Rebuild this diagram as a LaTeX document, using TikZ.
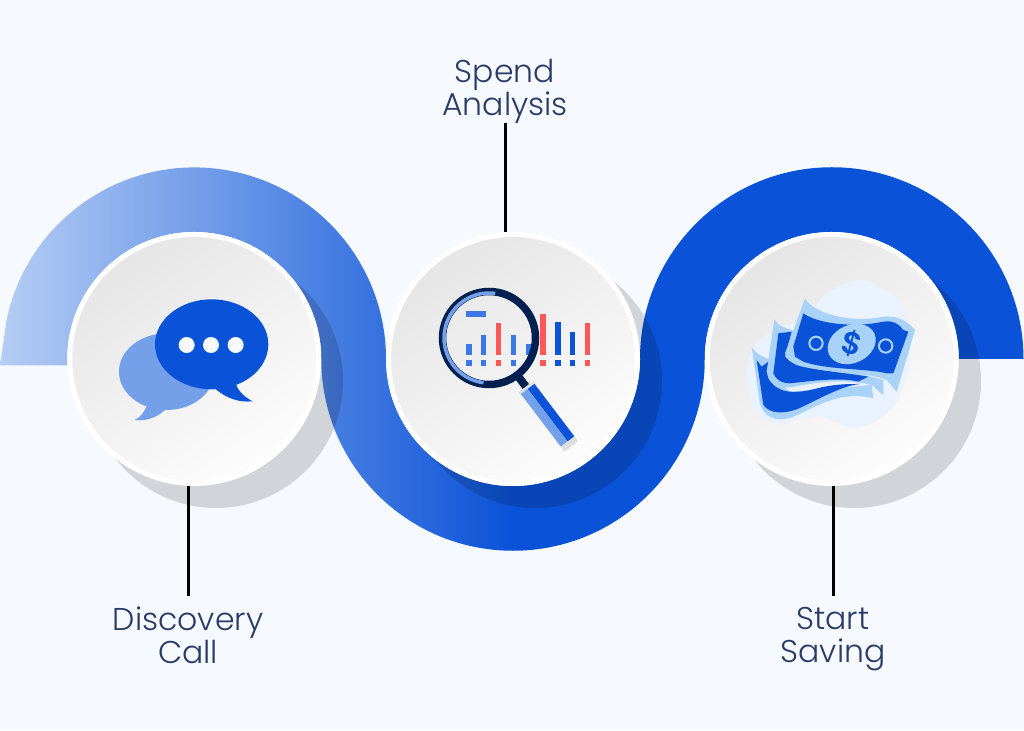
\documentclass[tikz,border=0pt]{standalone}
\usepackage{fontspec}
\setmainfont{Poppins}[UprightFont=* Light]
\usepackage{tikz}
\definecolor{pagebg}{HTML}{F6FAFF}
\definecolor{ribbonpale}{HTML}{B5CDF4}
\definecolor{ribbonblue}{HTML}{0A52D8}
\definecolor{bubblepale}{HTML}{74A0EA}
\definecolor{billpale}{HTML}{A9D2F8}
\definecolor{blobpale}{HTML}{E9F2FD}
\definecolor{lensnavy}{HTML}{02204F}
\definecolor{barlight}{HTML}{3B78E6}
\definecolor{barred}{HTML}{FF5757}
\definecolor{inkblue}{HTML}{2B3A67}
\def\dshadow{\fill[black,opacity=0.15]}
\def\dbar#1#2#3{\fill[#1] (#2,254) rectangle (#2+17,#3); \fill[#1] (#2,271) rectangle (#2+17,288);}
\tikzset{
  disc/.style={circle,draw=white,line width=5pt,minimum size=249pt,inner sep=0pt,
    shade,top color=black!10,bottom color=white!99!black,shading angle=35},
  steplabel/.style={align=center,text=inkblue,font=\fontsize{31.5}{33}\selectfont,inner sep=0pt},
  linkline/.style={draw=black,line width=3pt}
}

\begin{document}
\begin{tikzpicture}[x=1pt,y=1pt]
  \useasboundingbox (0,0) rectangle (1024,730);
  \fill[pagebg] (0,0) rectangle (1024,730);
  % ribbon
  \shade[left color=ribbonpale,right color=ribbonblue] (0,364.5) -- (6.6,410)
    arc[start angle=168.2,end angle=0,radius=191.75]
    arc[start angle=180,end angle=270,radius=127] -- (513,179.25)
    arc[start angle=270,end angle=180,radius=191.75]
    arc[start angle=0,end angle=180,radius=127] -- (67.25,364.5) -- cycle;
  \fill[ribbonblue] (512,244) -- (513,244)
    arc[start angle=270,end angle=360,radius=127]
    arc[start angle=180,end angle=0,radius=191.75] -- (958.75,371)
    arc[start angle=0,end angle=180,radius=127]
    arc[start angle=0,end angle=-90,radius=191.75] -- (512,179.25) -- cycle;
  % shadows
  \dshadow (216,349) circle[radius=127];
  \dshadow (535,349) circle[radius=127];
  \dshadow (854,349) circle[radius=127];
  % discs
  \node[disc] (discovery) at (194.25,371) {};
  \node[disc] (spend) at (513,371) {};
  \node[disc] (saving) at (831.75,371) {};
  % chat icon
  \begin{scope}[shift={(0,570)},xscale=1/3,yscale=-1/3]
    \fill[bubblepale] (500,635) ellipse[x radius=143,y radius=115];
    \fill[bubblepale] (445,725) .. controls (435,755) and (420,775) .. (403,780)
      .. controls (440,785) and (475,770) .. (497,748) -- cycle;
    \fill[ribbonblue] (635,553) ellipse[x radius=170,y radius=135];
    \fill[ribbonblue] (645,686) .. controls (680,715) and (715,728) .. (758,724)
      .. controls (735,712) and (715,695) .. (708,672) -- cycle;
    \fill[pagebg] (560,555) circle[radius=24];
    \fill[pagebg] (633,555) circle[radius=24];
    \fill[pagebg] (707,555) circle[radius=24];
  \end{scope}
  % magnifier icon
  \begin{scope}[shift={(420,460)},xscale=1/3,yscale=-1/3]
    \dbar{barlight}{138}{222}
    \dbar{barlight}{182}{195}
    \dbar{barred}{227}{160}
    \dbar{barlight}{272}{195}
    \dbar{barlight}{317}{222}
    \dbar{barred}{360}{133}
    \dbar{ribbonblue}{405}{157}
    \dbar{ribbonblue}{449}{187}
    \dbar{barred}{494}{160}
    \fill[barlight] (138,124) rectangle (198,140);
  \end{scope}
  \draw[lensnavy,line width=7.5pt] (489,392) circle[radius=46.5];
  \draw[bubblepale,line width=3.5pt] (489,392) ++(82:45) arc[start angle=82,end angle=263,radius=45];
  \begin{scope}[shift={(489,392)},rotate=-52.8]
    \fill[lensnavy] (48,-4) rectangle (62,4);
    \fill[black!12] (61,-9.5) rectangle (65,9.5);
    \fill[ribbonblue] (64,0) rectangle (130,8.5);
    \fill[bubblepale] (64,-8.5) rectangle (130,0);
    \fill[black!13] (130,-8.5) rectangle (136,8.5);
  \end{scope}
  % money icon
  \begin{scope}[shift={(740,460)},xscale=1/3,yscale=-1/3]
    \fill[blobpale] plot[smooth cycle] coordinates {(370,30) (490,110) (510,270) (460,410) (350,475) (240,440)
      (120,460) (50,430) (20,330) (40,230) (110,180) (200,140) (260,70)};
    \fill[billpale] (35,232) .. controls (45,250) and (70,260) .. (90,270) -- (80,310) -- (150,365) -- (395,345)
      -- (400,385) .. controls (300,360) and (230,410) .. (160,440) .. controls (110,460) and (70,440) .. (60,400) -- cycle;
    \fill[ribbonblue] (50,270) -- (65,290) -- (85,275) -- (85,325) .. controls (110,370) and (160,372) .. (220,358)
      .. controls (280,342) and (320,342) .. (360,342) .. controls (300,348) and (230,392) .. (170,418)
      .. controls (130,432) and (90,432) .. (70,405) -- cycle;
    \fill[billpale] (103,148) .. controls (115,170) and (140,175) .. (170,185) -- (140,255) -- (430,330) -- (430,375)
      -- (395,345) .. controls (300,322) and (220,340) .. (150,352) .. controls (110,358) and (85,335) .. (80,305) -- cycle;
    \fill[ribbonblue] (115,190) -- (155,185) -- (135,260) .. controls (170,300) and (300,305) .. (385,320) -- (355,335)
      .. controls (300,320) and (200,335) .. (150,340) .. controls (115,340) and (105,320) .. (100,310) -- cycle;
    \fill[billpale] (195,85) .. controls (225,135) and (340,160) .. (430,140) .. controls (470,135) and (505,155) .. (525,180)
      -- (470,365) -- (440,330) .. controls (380,305) and (250,310) .. (170,285) .. controls (150,275) and (140,270) .. (135,250) -- cycle;
    \fill[ribbonblue] (190,130) .. controls (230,160) and (340,175) .. (430,155) .. controls (460,150) and (480,165) .. (490,180)
      -- (505,185) -- (460,310) -- (440,310) .. controls (380,295) and (260,300) .. (190,275) -- (165,260) -- (160,230) -- cycle;
    \draw[billpale,line width=2pt] (228,220) circle[radius=20];
    \draw[billpale,line width=2pt] (437,228) circle[radius=20];
  \end{scope}
  \fill[billpale,rotate around={25:(851.7,386)}] (851.7,386) ellipse[x radius=25,y radius=19];
  \node[text=ribbonblue,font=\fontsize{31}{31}\bfseries,rotate=-15,inner sep=0pt] (dollar) at (851.7,386) {\$};
  % labels
  \node[steplabel,inner ysep=10pt] (discoverytext) at (188,95) {Discovery\\Call};
  \node[steplabel] (spendtext) at (505,639) {Spend\\Analysis};
  \node[steplabel,inner ysep=11pt] (savingtext) at (833,91) {Start\\Saving};
  \draw[linkline] (discoverytext.north) -- (discoverytext.north |- discovery.south);
  \draw[linkline] (spendtext.south) -- (spendtext.south |- spend.north);
  \draw[linkline] (savingtext.north) -- (savingtext.north |- saving.south);
\end{tikzpicture}
\end{document}
